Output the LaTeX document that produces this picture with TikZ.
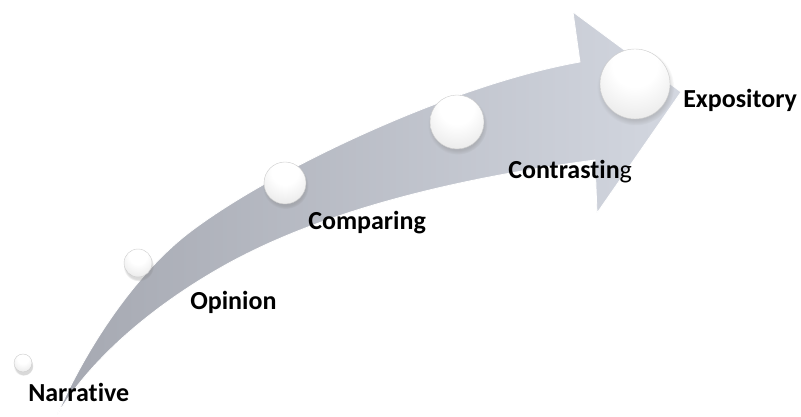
\documentclass[tikz,border=0pt]{standalone}
\usepackage{fontspec}
\setmainfont[Ligatures=NoCommon]{Carlito}
\usetikzlibrary{shadows}
\definecolor{flecha}{HTML}{A5A8B1}
\definecolor{flechaclara}{HTML}{D3D7E0}
\definecolor{perlamedio}{HTML}{E3E3E3}
\definecolor{perlaborde}{HTML}{D0D0D1}
\definecolor{perlasombra}{HTML}{B4B4B8}
\pgfdeclareradialshading{perlado}{\pgfpoint{0bp}{18bp}}{%
  color(0bp)=(white); color(16bp)=(white); color(42bp)=(perlamedio);
  color(60bp)=(perlaborde); color(70bp)=(perlasombra)}

\begin{document}
\begin{tikzpicture}[x=0.75pt, y=-0.75pt,
  perla/.style={
    circle, inner sep=0pt, minimum size=#1,
    shading=perlado, draw=black!20, line width=0.3pt,
    circular drop shadow={shadow xshift=0.4pt, shadow yshift=-2pt, opacity=0.3}
  },
  etiqueta/.style={anchor=base west, inner sep=0pt,
    font=\bfseries\fontsize{19.5}{22}\selectfont}
]
  \useasboundingbox (0,0) rectangle (801,417);
  \shadedraw[left color=flecha, right color=flechaclara, draw=white, line width=0.6pt]
    (57,415) .. controls (90,340) and (140,270) .. (190,232)
    .. controls (270,171) and (450,85) .. (580,62)
    -- (573,12) -- (681,92) -- (597,213) -- (595,160)
    .. controls (480,175) and (330,205) .. (220,268)
    .. controls (150,308) and (90,360) .. cycle;
  \node[perla=13.5pt] (bNarr) at (23,363) {};
  \node[perla=21pt]   (bOpin) at (138,263) {};
  \node[perla=31.5pt] (bComp) at (285,183) {};
  \node[perla=40.5pt] (bCont) at (457,122) {};
  \node[perla=52.5pt] (bExpo) at (635,84) {};
  \node[etiqueta] (narr) at (28,402) {Narrative};
  \node[etiqueta] (opin) at (190,310) {Opinion};
  \node[etiqueta] (comp) at (308,230) {Comparing};
  \node[etiqueta] (cont) at (508,179) {Contrastin\mdseries g};
  \node[etiqueta] (expo) at (683,108) {Expository};
\end{tikzpicture}
\end{document}
